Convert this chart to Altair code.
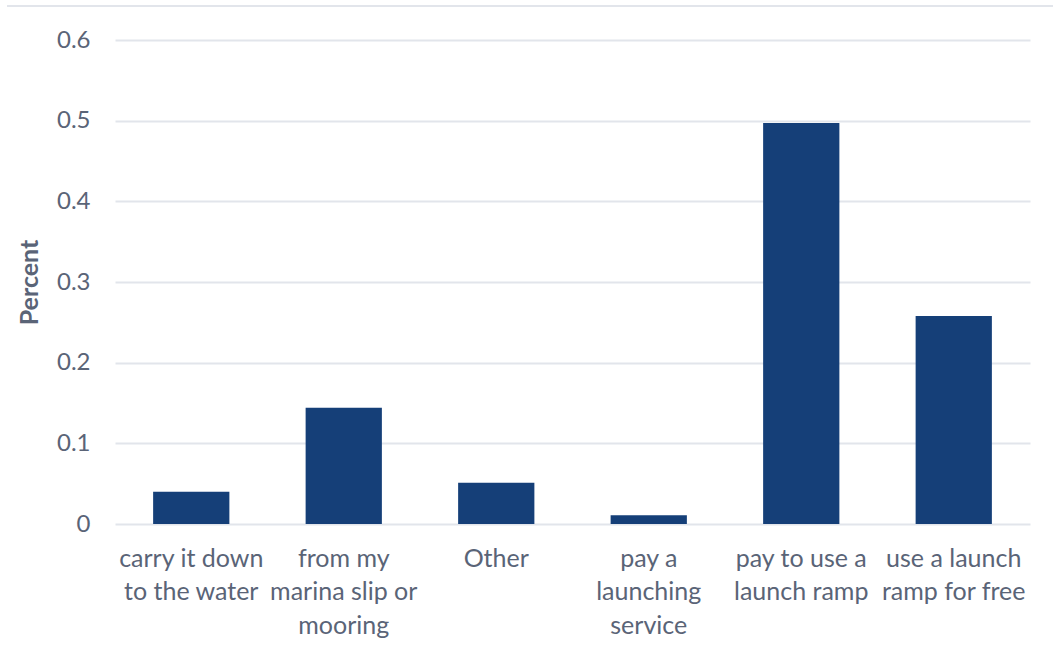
import altair as alt
import pandas as pd

# Launch method shares
methods = [
    "carry it down to the water",
    "from my marina slip or mooring",
    "Other",
    "pay a launching service",
    "pay to use a launch ramp",
    "use a launch ramp for free",
]
shares = [0.040, 0.144, 0.051, 0.011, 0.497, 0.258]

# Wrapped tick-label lines for each category
label_lines = [
    ["carry it down", "to the water"],
    ["from my", "marina slip or", "mooring"],
    ["Other"],
    ["pay a", "launching", "service"],
    ["pay to use a", "launch ramp"],
    ["use a launch", "ramp for free"],
]
y_ticks = [0, 0.1, 0.2, 0.3, 0.4, 0.5, 0.6]

df = pd.DataFrame({"method": methods, "share": shares})

label_map = "{" + ", ".join(
    "'" + m + "': [" + ", ".join("'" + s + "'" for s in lines) + "]"
    for m, lines in zip(methods, label_lines)
) + "}"

TEXT = "#5A6477"
GRID = "#E2E5EB"
FONT = "Lato"

bars = alt.Chart(df).mark_bar(color="#153F78").encode(
    x=alt.X(
        "method:N",
        sort=methods,
        scale=alt.Scale(paddingInner=0.5, paddingOuter=0.25),
        axis=alt.Axis(
            title=None,
            labelAngle=0,
            labelExpr=label_map + "[datum.value]",
            labelFont=FONT,
            labelFontSize=25,
            labelColor=TEXT,
            labelPadding=22,
            labelLineHeight=33.5,
            labelLimit=300,
            ticks=False,
            domain=False,
        ),
    ),
    y=alt.Y(
        "share:Q",
        scale=alt.Scale(domain=[0, 0.6], nice=False),
        axis=alt.Axis(
            title="Percent",
            titleFont=FONT,
            titleFontSize=25,
            titleFontWeight="bold",
            titleColor=TEXT,
            titleX=-73,
            titleBaseline="bottom",
            values=y_ticks,
            labelExpr="datum.value == 0 ? '0' : format(datum.value, '.1f')",
            labelFont=FONT,
            labelFontSize=24,
            labelColor=TEXT,
            labelPadding=25,
            ticks=False,
            domain=False,
            gridColor=GRID,
            gridWidth=2,
        ),
    ),
)

# Thin frame line along the top of the chart
frame = alt.Chart(df).mark_rule(color=GRID, strokeWidth=2).encode(
    x=alt.value(-108), x2=alt.value(938), y=alt.value(-34)
)

chart = (
    alt.layer(frame, bars)
    .properties(
        width=915,
        height=484,
        autosize=alt.AutoSizeParams(type="none"),
        padding={"left": 115, "top": 40, "right": 23, "bottom": 133},
        background="white",
    )
    .configure_view(stroke=None)
)

chart.save("out.html", embed_options={"renderer": "svg", "actions": False})
